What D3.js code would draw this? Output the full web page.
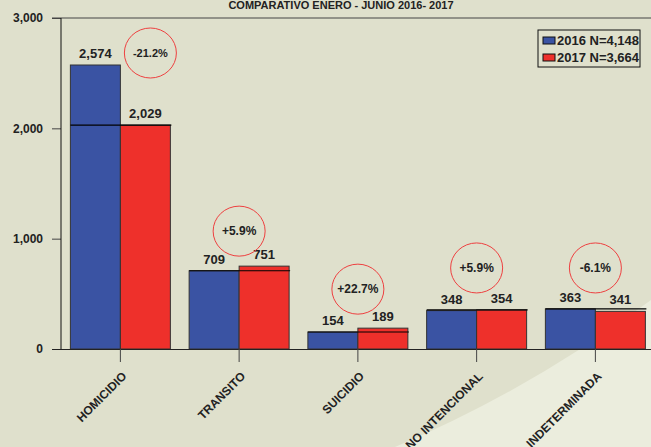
<!DOCTYPE html>
<html>
<head>
<meta charset="utf-8">
<script src="https://cdn.jsdelivr.net/npm/d3@7"></script>
<style>
    body { margin: 0; padding: 0; background: #dfe0cc; }
    text { font-family: "Liberation Sans", Arial, sans-serif; font-weight: bold; fill: #222; }
</style>
</head>
<body>
<div id="canvas"></div>
<script>
var categories = ["HOMICIDIO", "TRANSITO", "SUICIDIO", "NO INTENCIONAL", "INDETERMINADA"];
var series = ["2016 N=4,148", "2017 N=3,664"];
var values2016 = [2574, 709, 154, 348, 363];
var values2017 = [2029, 751, 189, 354, 341];
var changeLabels = ["-21.2%", "+5.9%", "+22.7%", "+5.9%", "-6.1%"];
var overlayLevels = [2029, 709, 154, 354, 363];
var yTicks = [0, 1000, 2000, 3000];
var colors = ["#3a53a3", "#ee302b"];

function init() {
    var W = 651, H = 447;
    var svg = d3.select("#canvas").append("svg")
        .attr("width", W)
        .attr("height", H)
        .style("display", "block");

    // background + lighter swoosh
    svg.append("rect").attr("width", W).attr("height", H).attr("fill", "#dfe0cc");
    svg.append("path")
        .attr("d", "M395,447 Q530,390 651,300 L651,447 Z")
        .attr("fill", "#ebeddd");

    // title (cut at top, as in the original)
    svg.append("text")
        .attr("x", 341)
        .attr("y", 9)
        .attr("text-anchor", "middle")
        .attr("font-size", 11)
        .text("COMPARATIVO ENERO - JUNIO 2016- 2017");

    var y = d3.scaleLinear().domain([0, 3000]).range([349, 18]);
    var x0 = d3.scaleBand().domain(categories).range([61, 61 + 5 * 118.75])
        .paddingInner(0.158).paddingOuter(0.079);
    var x1 = d3.scaleBand().domain(series).range([0, x0.bandwidth()]);

    // top border & axes
    svg.append("line").attr("x1", 52).attr("x2", W).attr("y1", y(3000)).attr("y2", y(3000))
        .attr("stroke", "#444").attr("stroke-width", 1);

    var yAxis = svg.append("g")
        .attr("transform", "translate(61,0)")
        .call(d3.axisLeft(y).tickValues(yTicks).tickSize(9).tickPadding(9)
            .tickFormat(d3.format(",")));
    yAxis.select(".domain").remove();
    yAxis.selectAll(".tick line").attr("stroke", "#444");
    yAxis.selectAll(".tick text").attr("font-size", 12).attr("fill", "#333")
        .attr("font-family", "Liberation Sans, Arial, sans-serif").attr("font-weight", "bold");
    svg.append("line").attr("x1", 61).attr("x2", 61).attr("y1", y(3000)).attr("y2", y(0))
        .attr("stroke", "#111");

    // bars
    var rows = categories.map(function (c, i) {
        return { cat: c, vals: [values2016[i], values2017[i]], i: i };
    });
    var groups = svg.selectAll(".grp").data(rows).enter().append("g")
        .attr("transform", function (d) { return "translate(" + x0(d.cat) + ",0)"; });

    groups.selectAll("rect").data(function (d) {
        return d.vals.map(function (v, k) { return { s: series[k], v: v, k: k }; });
    }).enter().append("rect")
        .attr("x", function (d) { return x1(d.s); })
        .attr("y", function (d) { return y(d.v); })
        .attr("width", x1.bandwidth())
        .attr("height", function (d) { return y(0) - y(d.v); })
        .attr("fill", function (d) { return colors[d.k]; })
        .attr("stroke", "#333")
        .attr("stroke-width", 1);

    groups.selectAll(".val").data(function (d) {
        return d.vals.map(function (v, k) { return { s: series[k], v: v }; });
    }).enter().append("text")
        .attr("x", function (d) { return x1(d.s) + x1.bandwidth() / 2; })
        .attr("y", function (d) { return y(d.v) - 7; })
        .attr("text-anchor", "middle")
        .attr("font-size", 13)
        .text(function (d) { return d3.format(",")(d.v); });

    // stray black level lines
    groups.append("line")
        .attr("x1", 0)
        .attr("x2", x0.bandwidth() + 1)
        .attr("y1", function (d) { return y(overlayLevels[d.i]); })
        .attr("y2", function (d) { return y(overlayLevels[d.i]); })
        .attr("stroke", "#000")
        .attr("stroke-width", 1.2);

    // x axis
    svg.append("line").attr("x1", 52).attr("x2", W).attr("y1", y(0) + 0.5).attr("y2", y(0) + 0.5)
        .attr("stroke", "#222");
    var ticks = svg.selectAll(".xt").data(categories).enter().append("g")
        .attr("transform", function (d) { return "translate(" + (x0(d) + x0.bandwidth() / 2) + "," + y(0) + ")"; });
    ticks.append("line").attr("y1", 0).attr("y2", 13).attr("stroke", "#444");
    ticks.append("text")
        .attr("transform", "translate(7,28) rotate(-45)")
        .attr("text-anchor", "end")
        .attr("font-size", 12)
        .text(function (d) { return d; });

    // change bubbles
    var bubbleDx = [30, 0, 0, 0, 0];
    var bubbleDy = [-12, -35, -39, -42, -41];
    rows.forEach(function (d, i) {
        var cx = x0(d.cat) + x0.bandwidth() / 2 + bubbleDx[i];
        var cy = y(d3.max(d.vals)) + bubbleDy[i];
        svg.append("ellipse")
            .attr("cx", cx).attr("cy", cy)
            .attr("rx", 26).attr("ry", 25)
            .attr("fill", "none")
            .attr("stroke", "#ee4040")
            .attr("stroke-width", 1);
        svg.append("text")
            .attr("x", cx).attr("y", cy + 4)
            .attr("text-anchor", "middle")
            .attr("font-size", i === 0 ? 11 : 12)
            .text(changeLabels[i]);
    });

    // legend
    var lg = svg.append("g").attr("transform", "translate(538,30)");
    lg.append("rect").attr("width", 102).attr("height", 37)
        .attr("fill", "#dfe0cc").attr("stroke", "#111");
    series.forEach(function (s, k) {
        lg.append("rect").attr("x", 5).attr("y", 7 + k * 17).attr("width", 12).attr("height", 7)
            .attr("fill", colors[k]).attr("stroke", "#111");
        lg.append("text").attr("x", 19).attr("y", 15 + k * 17)
            .attr("font-size", 13).text(s);
    });
}
window.onload = init;
</script>
</body>
</html>
